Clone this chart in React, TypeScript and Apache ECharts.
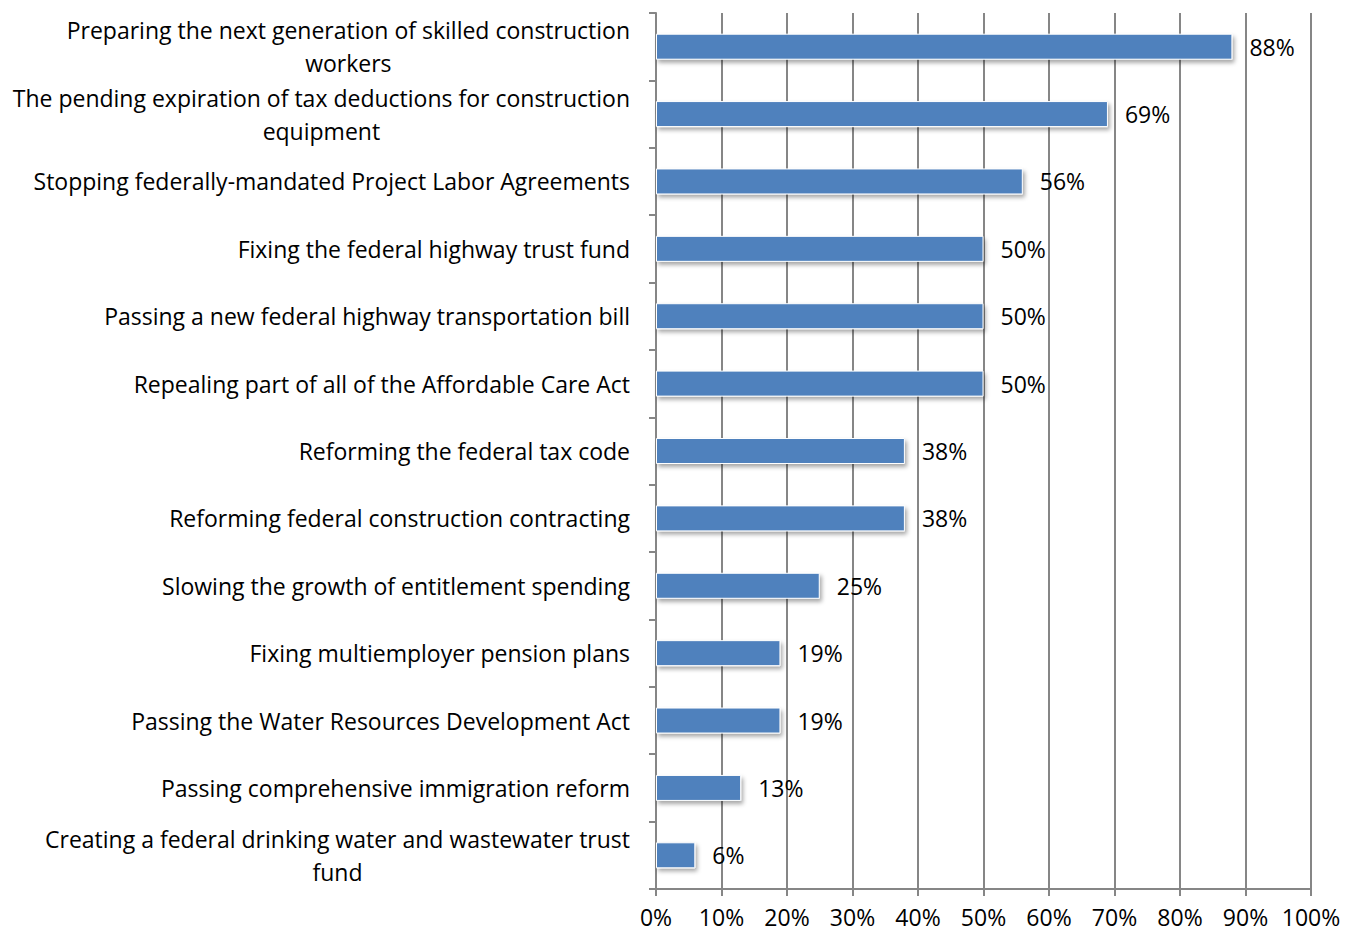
import React, { useEffect, useRef } from "react";
import * as echarts from "echarts";

const categories: string[][] = [
  ["Preparing the next generation of skilled construction", "workers"],
  ["The pending expiration of tax deductions for construction", "equipment"],
  ["Stopping federally-mandated Project Labor Agreements"],
  ["Fixing the federal highway trust fund"],
  ["Passing a new federal highway transportation bill"],
  ["Repealing part of all of the Affordable Care Act"],
  ["Reforming the federal tax code"],
  ["Reforming federal construction contracting"],
  ["Slowing the growth of entitlement spending"],
  ["Fixing multiemployer pension plans"],
  ["Passing the Water Resources Development Act"],
  ["Passing comprehensive immigration reform"],
  ["Creating a federal drinking water and wastewater trust", "fund"],
];
const values: number[] = [88, 69, 56, 50, 50, 50, 38, 38, 25, 19, 19, 13, 6];
const xTicks = { min: 0, max: 100, interval: 10 };

export default function App() {
  const ref = useRef<HTMLDivElement>(null);
  useEffect(() => {
    if (!ref.current) return;
    const chart = echarts.init(ref.current, undefined, { renderer: "svg" });
    const font = "'Open Sans', sans-serif";
    const fs = 23;
    chart.setOption({
      animation: false,
      grid: { left: 656, right: 40, top: 13, bottom: 44, containLabel: false },
      xAxis: {
        type: "value",
        min: xTicks.min,
        max: xTicks.max,
        interval: xTicks.interval,
        axisLine: { show: true, lineStyle: { color: "#868686", width: 2 } },
        axisTick: { show: true, length: 7, lineStyle: { color: "#868686", width: 2 } },
        splitLine: { show: true, lineStyle: { color: "#868686", width: 2 } },
        axisLabel: {
          formatter: (v: number) => `${v}%`,
          color: "#000",
          fontSize: fs,
          lineHeight: 20,
          fontFamily: font,
          margin: 18,
        },
      },
      yAxis: {
        type: "category",
        inverse: true,
        data: categories.map((c) => c.join("\n")),
        axisLine: { show: true, lineStyle: { color: "#868686", width: 2 } },
        axisTick: { show: true, length: 7, lineStyle: { color: "#868686", width: 2 } },
        axisLabel: {
          color: "#000",
          fontSize: fs,
          fontFamily: font,
          margin: 26,
          align: "right",
          interval: 0,
          formatter: (v: string) =>
            v
              .split("\n")
              .map((l) => `{a|${l}}`)
              .join("\n"),
          rich: {
            a: {
              align: "center",
              fontSize: fs,
              fontFamily: font,
              color: "#000",
              lineHeight: 33,
            },
          },
        },
      },
      series: [
        {
          type: "bar",
          data: values,
          barWidth: 26,
          itemStyle: {
            color: "#4F81BD",
            borderColor: "#ffffff",
            borderWidth: 1,
            shadowColor: "rgba(0,0,0,0.35)",
            shadowBlur: 4,
            shadowOffsetX: 2,
            shadowOffsetY: 3,
          },
          label: {
            show: true,
            position: "right",
            distance: 17,
            formatter: (p: any) => `${p.value}%`,
            color: "#000",
            fontSize: fs,
            fontFamily: font,
          },
        },
      ],
    });
    return () => chart.dispose();
  }, []);
  return (
    <div
      ref={ref}
      style={{ position: "absolute", left: 0, top: 0, width: 1351, height: 933 }}
    />
  );
}
